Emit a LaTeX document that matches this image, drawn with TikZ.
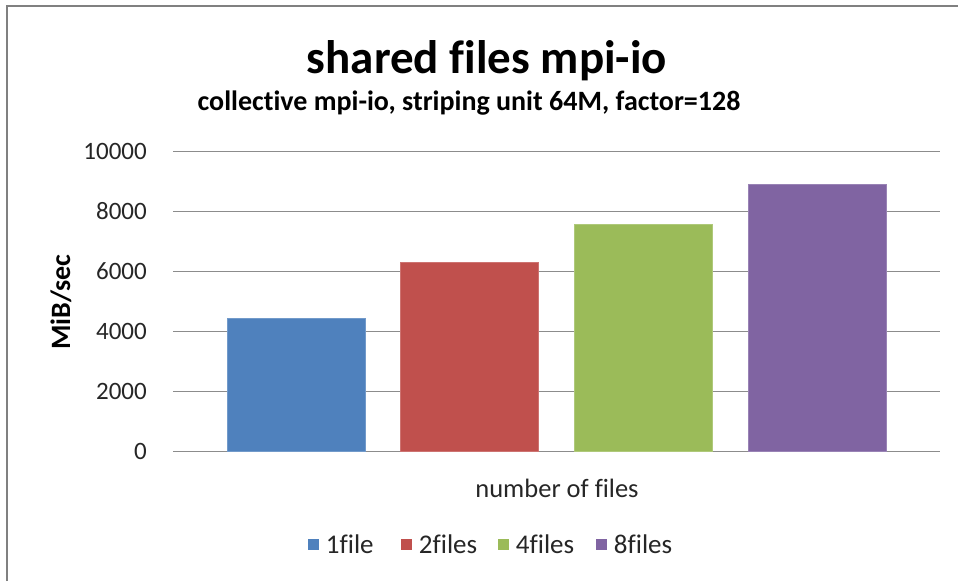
\documentclass[tikz,border=0pt]{standalone}
\usepackage{fontspec}
\setmainfont{Carlito}[Ligatures=NoCommon]
\usetikzlibrary{positioning}

\definecolor{barblue}{HTML}{4F81BD}
\definecolor{barred}{HTML}{C0504D}
\definecolor{bargreen}{HTML}{9BBB59}
\definecolor{barpurple}{HTML}{8064A2}
\definecolor{gridgray}{HTML}{8C8C8C}

\tikzset{
  gridline/.style={gridgray, line width=1.5pt},
  bar/.style={draw=#1!80!white, line width=0.8pt, fill=#1},
  ticklabel/.style={anchor=east, font=\fontsize{25}{30}\selectfont, text=black!85, inner sep=0pt},
  legkey/.style={fill=#1, minimum size=11pt, inner sep=0pt},
  legtext/.style={right=7pt of #1, font=\fontsize{27}{30}\selectfont, text=black!85, inner sep=0pt},
}

\begin{document}
\begin{tikzpicture}[x=1pt, y=-1pt]
\useasboundingbox (0,0) rectangle (958,581);
\draw[gray, line width=2.5pt] (7,581) -- (7,6) -- (958,6);
\node[anchor=base, font=\bfseries\fontsize{47}{52}\selectfont] (title) at (487,73) {shared files mpi-io};
\node[anchor=base, font=\bfseries\fontsize{28}{32}\selectfont] (subtitle) at (469,110) {collective mpi-io, striping unit 64M, factor=128};
% grid and y-axis labels
\foreach \v in {0,2000,...,10000} {
 \draw[gridline] (173,{451.7-0.03005*\v}) -- (940,{451.7-0.03005*\v});
 \node[ticklabel] (tick\v) at (147,{451.7-0.03005*\v}) {\v};
}
% bars
\foreach \x/\v/\c in {227/4440/barblue, 400/6313/barred, 574/7580/bargreen, 748/8898/barpurple} {
 \draw[bar=\c] (\x,451.7) rectangle ++(138,{-0.03005*\v});
}
\node[rotate=90, font=\bfseries\fontsize{28}{30}\selectfont] (ylabel) at (61,302) {MiB/sec};
\node[font=\fontsize{26.5}{30}\selectfont, text=black!85] (xlabel) at (557,488) {number of files};
% legend
\node[legkey=barblue] (k1) at (313,544) {};
\node[legtext=k1] (l1) {1file};
\node[legkey=barred] (k2) at (406,544) {};
\node[legtext=k2] (l2) {2files};
\node[legkey=bargreen] (k4) at (503,544) {};
\node[legtext=k4] (l4) {4files};
\node[legkey=barpurple] (k8) at (601,544) {};
\node[legtext=k8] (l8) {8files};
\end{tikzpicture}
\end{document}
